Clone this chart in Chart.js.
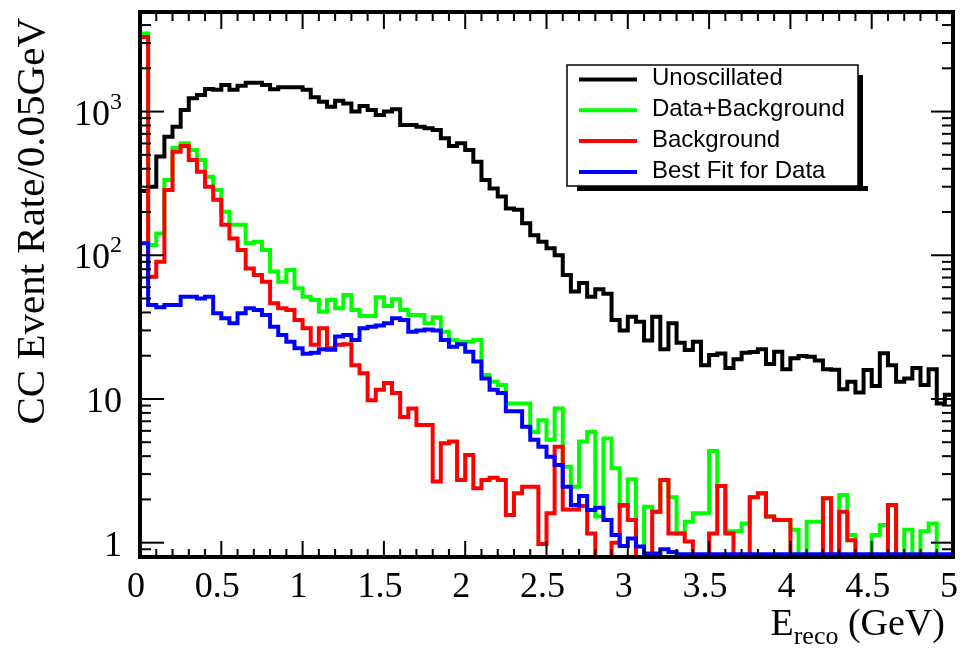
<!DOCTYPE html>
<html>
<head>
<meta charset="utf-8">
<script src="https://cdn.jsdelivr.net/npm/chart.js@4.4.1/dist/chart.umd.min.js"></script>
<style>
  html, body { margin: 0; padding: 0; background: #ffffff; }
  canvas { display: block; }
</style>
</head>
<body>
<canvas id="chart" width="965" height="649"></canvas>
<script>
// Reconstructed-energy spectra, 100 bins of 0.05 GeV from 0 to 5 GeV.
const BIN_WIDTH = 0.05;

const unoscillated = [
  280, 300, 486, 668, 785, 1026, 1238, 1306, 1437, 1417,
  1532, 1417, 1510, 1585, 1585, 1532, 1430, 1477, 1477, 1477,
  1417, 1256, 1172, 1082, 1190, 1140, 1000, 1094, 1026, 947,
  1000, 1038, 807, 807, 785, 765, 745, 652, 576, 601,
  540, 448, 334, 292, 256, 212, 207, 167, 138, 124,
  112, 100, 73, 56, 64, 51.5, 58, 54, 35.5, 30,
  37.4, 34.5, 25.5, 37.4, 22.2, 33.6, 24.6, 21.9, 25, 17.2,
  20.2, 20.7, 16.4, 18.9, 21, 21.2, 22.2, 17.5, 21.3, 16.1,
  19.2, 19.9, 19.7, 18.5, 16.1, 16, 11.7, 13.2, 11.1, 15.9,
  12.3, 20.8, 17.2, 13.2, 13.9, 16.4, 12.5, 16.1, 9.3, 10.7
];

const dataPlusBackground = [
  3500, 118, 142, 334, 560, 601, 540, 460, 352, 285,
  201, 163, 163, 121, 124, 109, 77, 65.5, 79, 59,
  51.5, 48.9, 40.5, 48.9, 42.8, 53, 41.6, 37.8, 37.8, 51,
  44.4, 49.4, 41.6, 38.4, 38.4, 33.6, 37, 29.4, 25.7, 25,
  25, 25.7, 14.7, 13.2, 12.5, 9.3, 9.3, 9.3, 5.9, 7.1,
  5.2, 8.6, 3.38, 2.45, 5.05, 5.9, 1.52, 5.3, 3.3, 1.8,
  2.76, 0.3, 1.78, 1.64, 2.73, 2.07, 1.16, 1.4, 1.6, 1.6,
  4.35, 2.48, 1.2, 1.2, 1.36, 2.07, 2.21, 1.52, 1.44, 1.44,
  1.23, 0.3, 1.4, 1.4, 2.04, 0.3, 2.15, 1.13, 0.3, 0.3,
  1.13, 1.33, 1.83, 0.3, 1.23, 0.3, 1.2, 1.36, 0.3, 0.3
];

const background = [
  3300, 71, 90, 285, 526, 576, 460, 382, 300, 243,
  163, 131, 109, 81, 73, 65.5, 46.3, 42.8, 41.6, 35.5,
  31, 23.8, 31, 22.5, 23.8, 24, 17.2, 15.1, 9.8, 11.6,
  12.9, 11, 7.5, 8.6, 6.6, 6.6, 2.66, 4.92, 5.05, 2.73,
  4.08, 2.39, 2.73, 2.83, 2.73, 1.56, 2.21, 2.45, 2.45, 0.98,
  1.6, 4.66, 1.7, 1.7, 1.8, 1.16, 0.3, 0.3, 1.0, 1.83,
  1.44, 0.3, 0.3, 1.64, 2.73, 1.16, 1.16, 1.02, 0.3, 0.3,
  1.16, 2.48, 1.16, 0.3, 0.3, 2.07, 2.21, 1.52, 1.44, 1.44,
  0.3, 0.3, 0.3, 0.3, 2.04, 0.3, 1.64, 1.04, 0.3, 0.3,
  0.3, 0.3, 1.83, 0.3, 0.3, 0.3, 0.3, 0.3, 0.3, 0.3
];

const bestFit = [
  121, 45, 43.5, 45, 45, 51.5, 51.5, 50, 51.5, 39.5,
  36.4, 33.6, 39.5, 42.8, 41.6, 38.4, 31.8, 27.9, 25, 22.5,
  20.6, 21, 22.2, 22, 27.2, 27.9, 25.7, 31, 31.8, 32.5,
  33.6, 36.4, 35.5, 29.4, 30, 30.5, 30, 25.7, 23.1, 24,
  21.3, 18.2, 13.9, 11.6, 11, 8.2, 8.2, 6.4, 5.2, 4.66,
  3.97, 3.47, 2.45, 1.83, 2.11, 1.69, 1.75, 1.44, 1.13, 0.95,
  1.07, 0.94, 0.84, 0.84, 0.9, 0.86, 0.83, 0.83, 0.83, 0.83,
  0.83, 0.83, 0.83, 0.83, 0.83, 0.83, 0.83, 0.83, 0.83, 0.83,
  0.83, 0.83, 0.83, 0.83, 0.83, 0.83, 0.83, 0.83, 0.83, 0.83,
  0.83, 0.83, 0.83, 0.83, 0.83, 0.83, 0.83, 0.83, 0.83, 0.83
];

const seriesNames = ['Unoscillated', 'Data+Background', 'Background', 'Best Fit for Data'];
const seriesColors = ['#000000', '#00ff00', '#ff0000', '#0000ff'];

const xTickValues = [0, 0.5, 1, 1.5, 2, 2.5, 3, 3.5, 4, 4.5, 5];
const xTickLabels = ['0', '0.5', '1', '1.5', '2', '2.5', '3', '3.5', '4', '4.5', '5'];
const yTickValues = [1, 10, 100, 1000];
const yTickBase = ['1', '10', '10', '10'];
const yTickExp = ['', '', '2', '3'];

const X_MIN = 0, X_MAX = 5;
const Y_MIN = 0.795, Y_MAX = 4930;

// Each bin value is placed at its lower edge; a closing point at the upper
// edge of the last bin finishes the step outline.
function toSteps(values) {
  const pts = values.map((v, i) => ({ x: i * BIN_WIDTH, y: v }));
  pts.push({ x: values.length * BIN_WIDTH, y: values[values.length - 1] });
  return pts;
}

const SERIF = '"Liberation Serif", "Times New Roman", serif';
const SANS = '"Liberation Sans", Arial, sans-serif';

function seg(ctx, x1, y1, x2, y2) {
  ctx.beginPath();
  ctx.moveTo(x1, y1);
  ctx.lineTo(x2, y2);
  ctx.stroke();
}

// Frame with inward ticks on all four sides, axis labels, titles and legend box.
const framePlugin = {
  id: 'rootFrame',
  afterDatasetsDraw(chart) {
    const { ctx, chartArea: a, scales } = chart;
    const xs = scales.x, ys = scales.y;
    ctx.save();
    ctx.strokeStyle = '#000';
    ctx.fillStyle = '#000';
    ctx.lineCap = 'butt';

    // x ticks: major every 0.5, minor every 0.1
    ctx.lineWidth = 2;
    for (let k = 0; k <= 50; k++) {
      const px = xs.getPixelForValue(k * 0.1);
      const major = k % 5 === 0;
      seg(ctx, px, a.bottom, px, a.bottom - (major ? 16 : 8));
      seg(ctx, px, a.top, px, a.top + (major ? 17 : 9));
    }
    // y ticks: decades major, 2..9 minor
    for (let d = -1; d <= 3; d++) {
      for (let m = 1; m <= 9; m++) {
        const v = m * Math.pow(10, d);
        if (v < Y_MIN || v > Y_MAX) continue;
        const py = ys.getPixelForValue(v);
        const major = m === 1;
        seg(ctx, a.left, py, a.left + (major ? 24 : 11), py);
        seg(ctx, a.right, py, a.right - (major ? 22 : 11), py);
      }
    }
    // frame
    ctx.lineWidth = 4;
    ctx.strokeRect(a.left, a.top, a.right - a.left, a.bottom - a.top);

    // x tick labels
    ctx.font = '36px ' + SERIF;
    ctx.textAlign = 'center';
    ctx.textBaseline = 'alphabetic';
    xTickValues.forEach((v, i) => {
      ctx.fillText(xTickLabels[i], xs.getPixelForValue(v) - 4, a.bottom + 40);
    });

    // y tick labels (base with optional exponent), right aligned
    const labelRight = a.left - 18;
    yTickValues.forEach((v, i) => {
      const py = ys.getPixelForValue(v);
      ctx.font = '36px ' + SERIF;
      const bw = ctx.measureText(yTickBase[i]).width;
      ctx.font = '24px ' + SERIF;
      const ew = yTickExp[i] ? ctx.measureText(yTickExp[i]).width : 0;
      const x0 = labelRight - bw - ew;
      ctx.textAlign = 'left';
      ctx.font = '36px ' + SERIF;
      ctx.fillText(yTickBase[i], x0, py + 13);
      if (yTickExp[i]) {
        ctx.font = '24px ' + SERIF;
        ctx.fillText(yTickExp[i], x0 + bw, py - 3);
      }
    });

    // x title: E_reco (GeV), right aligned at the axis end
    ctx.textAlign = 'left';
    ctx.font = '38px ' + SERIF;
    const tMain = 'E', tSub = 'reco', tUnit = ' (GeV)';
    const wE = ctx.measureText(tMain).width;
    const wU = ctx.measureText(tUnit).width;
    ctx.font = '26px ' + SERIF;
    const wS = ctx.measureText(tSub).width;
    const tx = a.right - 8 - (wE + wS + wU);
    const ty = a.bottom + 78;
    ctx.font = '38px ' + SERIF;
    ctx.fillText(tMain, tx, ty);
    ctx.font = '26px ' + SERIF;
    ctx.fillText(tSub, tx + wE, ty + 9);
    ctx.font = '38px ' + SERIF;
    ctx.fillText(tUnit, tx + wE + wS, ty);

    // y title, rotated, right aligned at the top of the axis
    ctx.save();
    ctx.translate(44, a.top + 6);
    ctx.rotate(-Math.PI / 2);
    ctx.font = '41px ' + SERIF;
    ctx.textAlign = 'right';
    ctx.fillText('CC Event Rate/0.05GeV', 0, 0);
    ctx.restore();

    // legend box with drop shadow
    const lx = 567, ly = 65, lw = 291, lh = 121;
    ctx.fillRect(lx + 10, ly + lh, lw, 5);
    ctx.fillRect(lx + lw, ly + 10, 5, lh - 5);
    ctx.fillStyle = '#fff';
    ctx.fillRect(lx, ly, lw, lh);
    ctx.lineWidth = 1.5;
    ctx.strokeRect(lx, ly, lw, lh);
    ctx.font = '24px ' + SANS;
    ctx.textAlign = 'left';
    ctx.textBaseline = 'middle';
    chart.data.datasets.forEach((ds, i) => {
      const yy = ly + 14.5 + i * 30.8;
      ctx.strokeStyle = ds.borderColor;
      ctx.lineWidth = 4;
      seg(ctx, lx + 12, yy, lx + 70, yy);
      ctx.fillStyle = '#000';
      ctx.fillText(ds.label, lx + 85, yy - 1);
    });
    ctx.restore();
  }
};

const seriesValues = [unoscillated, dataPlusBackground, background, bestFit];

new Chart(document.getElementById('chart').getContext('2d'), {
  type: 'line',
  data: {
    datasets: seriesValues.map((vals, i) => ({
      label: seriesNames[i],
      data: toSteps(vals),
      borderColor: seriesColors[i],
      backgroundColor: seriesColors[i],
      borderWidth: 4,
      stepped: 'before',
      fill: false,
      pointRadius: 0,
      borderJoinStyle: 'miter',
      borderCapStyle: 'butt',
      order: 4 - i
    }))
  },
  options: {
    responsive: false,
    animation: false,
    devicePixelRatio: 1,
    layout: { padding: { left: 140, right: 12, top: 12, bottom: 92 } },
    plugins: { legend: { display: false }, tooltip: { enabled: false } },
    scales: {
      x: { type: 'linear', min: X_MIN, max: X_MAX, display: false },
      y: { type: 'logarithmic', min: Y_MIN, max: Y_MAX, display: false }
    }
  },
  plugins: [framePlugin]
});
</script>
</body>
</html>
